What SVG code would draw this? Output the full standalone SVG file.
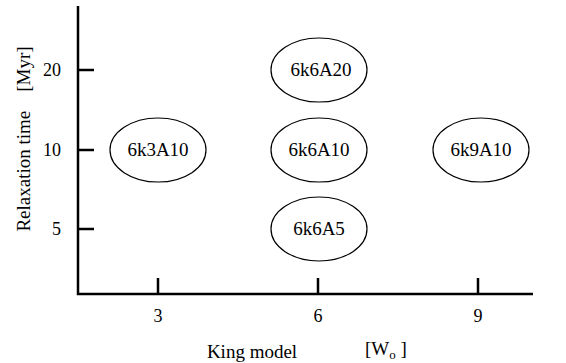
<svg xmlns="http://www.w3.org/2000/svg" width="566" height="363" viewBox="0 0 566 363">
<style>
.ax{stroke:#000;stroke-width:2.5;fill:none}
.nd{fill:#fff;stroke:#000;stroke-width:1.2}
text{font-family:"Liberation Serif","Times New Roman",serif;fill:#000;font-size:18px}
.lb{font-size:19px;text-anchor:middle}
</style>
<rect width="566" height="363" fill="#fff"/>
<g id="axes" class="ax">
<path d="M78,6 V294 H533"/>
<path d="M78,70 H94 M78,150 H94 M78,229 H94"/>
<path d="M158,278 V294 M318,278 V294 M478,278 V294"/>
</g>
<g id="ticklabels">
<text x="61" y="76" text-anchor="end">20</text>
<text x="61" y="156" text-anchor="end">10</text>
<text x="61" y="235" text-anchor="end">5</text>
<text x="158" y="322" text-anchor="middle">3</text>
<text x="318" y="322" text-anchor="middle">6</text>
<text x="478" y="322" text-anchor="middle">9</text>
<text x="252" y="358" text-anchor="middle" style="font-size:19px">King model</text>
<text x="365" y="355" style="font-size:19px">[W<tspan font-size="13" dy="4">o</tspan><tspan dy="-4"> ]</tspan></text>
<text transform="translate(30,139) rotate(-90)" text-anchor="middle" style="font-size:19px" xml:space="preserve">Relaxation time    [Myr]</text>
</g>
<g id="n6k3A10"><ellipse class="nd" cx="158" cy="150" rx="48" ry="32"/><text class="lb" x="158" y="156">6k3A10</text></g>
<g id="n6k6A20"><ellipse class="nd" cx="319" cy="70" rx="48" ry="32"/><text class="lb" x="321" y="76">6k6A20</text></g>
<g id="n6k6A10"><ellipse class="nd" cx="319" cy="150" rx="48" ry="32"/><text class="lb" x="319" y="156">6k6A10</text></g>
<g id="n6k6A5"><ellipse class="nd" cx="319" cy="229" rx="48" ry="32"/><text class="lb" x="319" y="235">6k6A5</text></g>
<g id="n6k9A10"><ellipse class="nd" cx="481" cy="150" rx="48" ry="32"/><text class="lb" x="481" y="156">6k9A10</text></g>
</svg>
